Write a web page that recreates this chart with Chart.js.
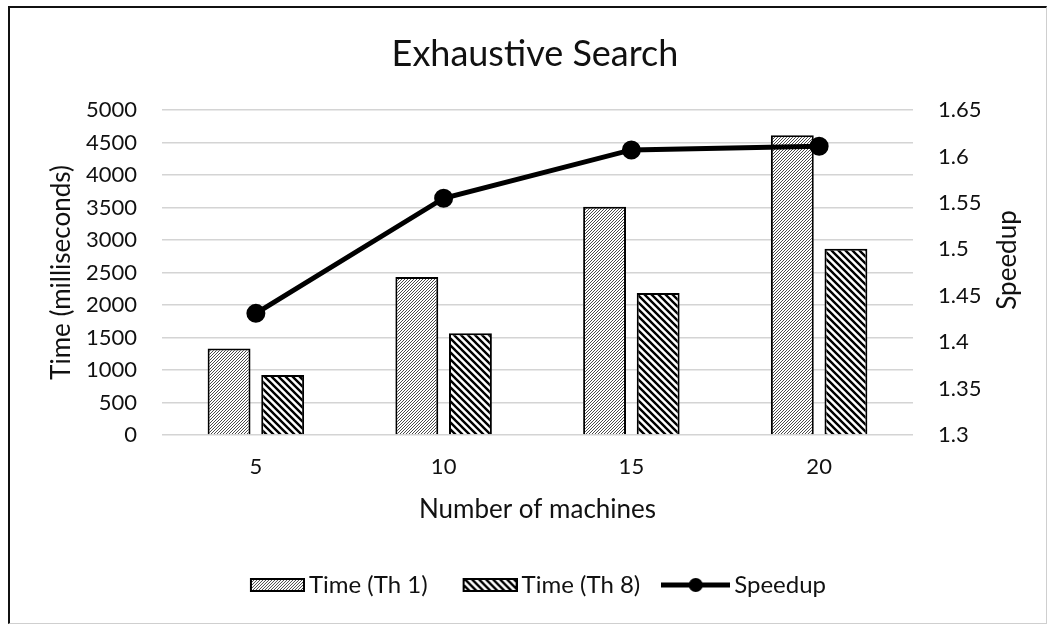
<!DOCTYPE html>
<html>
<head>
<meta charset="utf-8">
<script src="https://cdn.jsdelivr.net/npm/chart.js@4.4.1/dist/chart.umd.min.js"></script>
<style>
  html, body { margin: 0; padding: 0; background: #fff; }
  #frame {
    position: absolute; left: 8px; top: 6px; width: 1036px; height: 615px;
    border-left: 2px solid #111; border-top: 2px solid #111;
    border-right: 1px solid #cfcfcf; border-bottom: 1px solid #cfcfcf;
  }
  #chart { position: absolute; left: 0; top: 0; }
</style>
</head>
<body>
<div id="frame"></div>
<canvas id="chart" width="1047" height="624"></canvas>
<script>
    const machines = ['5', '10', '15', '20'];
    const timeTh1 = [1330, 2430, 3510, 4610];
    const timeTh8 = [925, 1565, 2185, 2865];
    const speedup = [1.431, 1.555, 1.607, 1.611];

    const timeRange = [0, 5000, 500];
    const speedRange = [1.3, 1.65, 0.05];

    const FONT = 'Lato, "Liberation Sans", sans-serif';

    // fine "/" hatch for the single-thread bars
    function fineHatch() {
        const s = 3;
        const c = document.createElement('canvas');
        c.width = s; c.height = s;
        const g = c.getContext('2d');
        g.fillStyle = '#fff';
        g.fillRect(0, 0, s, s);
        g.fillStyle = '#4a4a4a';
        for (let i = 0; i < s; i++) {
            g.fillRect(i, s - 1 - i, 1, 1);
        }
        return g.createPattern(c, 'repeat');
    }

    // wide "\" hatch for the 8-thread bars
    function wideHatch() {
        const s = 7;
        const c = document.createElement('canvas');
        c.width = s; c.height = s;
        const g = c.getContext('2d');
        g.fillStyle = '#fff';
        g.fillRect(0, 0, s, s);
        g.strokeStyle = '#000';
        g.lineWidth = 2.4;
        g.beginPath();
        g.moveTo(-1, -1); g.lineTo(s + 1, s + 1);
        g.moveTo(-1, s - 1); g.lineTo(1, s + 1);
        g.moveTo(s - 1, -1); g.lineTo(s + 1, 1);
        g.stroke();
        return g.createPattern(c, 'repeat');
    }

    const th1Fill = fineHatch();
    const th8Fill = wideHatch();

    // legend icons, all the same width so the labels line up
    function boxIcon(fill) {
        const c = document.createElement('canvas');
        c.width = 69; c.height = 16;
        const g = c.getContext('2d');
        g.fillStyle = fill;
        g.fillRect(14, 1, 55, 14);
        g.strokeStyle = '#000';
        g.lineWidth = 2;
        g.strokeRect(15, 2, 53, 12);
        return c;
    }

    function lineIcon() {
        const c = document.createElement('canvas');
        c.width = 69; c.height = 16;
        const g = c.getContext('2d');
        g.strokeStyle = '#000';
        g.lineWidth = 5;
        g.beginPath();
        g.moveTo(0, 8); g.lineTo(69, 8);
        g.stroke();
        g.fillStyle = '#000';
        g.beginPath();
        g.arc(34.5, 8, 7, 0, Math.PI * 2);
        g.fill();
        return c;
    }

    const icons = [lineIcon(), boxIcon(th1Fill), boxIcon(th8Fill)];

    // right-hand axis title, reading upwards like the left one
    const speedupTitle = {
        id: 'speedupTitle',
        afterDraw(chart) {
            const s = chart.scales.y1;
            const c = chart.ctx;
            c.save();
            c.translate(s.right - 15.6, 260);
            c.rotate(-Math.PI / 2);
            c.font = '26px ' + FONT;
            c.fillStyle = '#111';
            c.textAlign = 'center';
            c.textBaseline = 'middle';
            c.fillText('Speedup', 0, 0);
            c.restore();
        }
    };

    const ctx = document.getElementById('chart').getContext('2d');
    const chart = new Chart(ctx, {
        type: 'bar',
        data: {
            labels: machines,
            datasets: [
                {
                    // first so it is painted over the bars
                    type: 'line',
                    label: 'Speedup',
                    data: speedup,
                    yAxisID: 'y1',
                    borderColor: '#000',
                    backgroundColor: '#000',
                    borderWidth: 5,
                    pointRadius: 7,
                    pointBackgroundColor: '#000',
                    pointBorderColor: '#000',
                    tension: 0
                },
                {
                    label: 'Time (Th 1)',
                    data: timeTh1,
                    yAxisID: 'y',
                    backgroundColor: th1Fill,
                    borderColor: '#000',
                    borderWidth: 2,
                    categoryPercentage: 0.571,
                    barPercentage: 0.8
                },
                {
                    label: 'Time (Th 8)',
                    data: timeTh8,
                    yAxisID: 'y',
                    backgroundColor: th8Fill,
                    borderColor: '#000',
                    borderWidth: 2,
                    categoryPercentage: 0.571,
                    barPercentage: 0.8
                }
            ]
        },
        options: {
            responsive: false,
            animation: false,
            devicePixelRatio: 1,
            layout: { padding: { top: 10, left: 46.4, right: 23.4, bottom: 17 } },
            plugins: {
                tooltip: { enabled: false },
                title: {
                    display: true,
                    text: 'Exhaustive Search',
                    color: '#111',
                    font: { family: FONT, size: 36, weight: 'normal' },
                    padding: { top: 22.4, bottom: 34.4 }
                },
                legend: {
                    position: 'bottom',
                    labels: {
                        usePointStyle: true,
                        pointStyleWidth: 53,
                        padding: 29,
                        color: '#111',
                        font: { family: FONT, size: 24 },
                        generateLabels: function (chart) {
                            const items = Chart.defaults.plugins.legend.labels.generateLabels(chart);
                            items.forEach(it => { it.pointStyle = icons[it.datasetIndex]; });
                            return items;
                        },
                        sort: (a, b) => ((a.datasetIndex + 2) % 3) - ((b.datasetIndex + 2) % 3)
                    }
                }
            },
            scales: {
                x: {
                    grid: { display: false },
                    border: { display: false },
                    ticks: { color: '#111', padding: 10.8, font: { family: FONT, size: 22 } },
                    title: {
                        display: true,
                        text: 'Number of machines',
                        color: '#111',
                        font: { family: FONT, size: 26 },
                        padding: { top: 3.4, bottom: 18.4 }
                    }
                },
                y: {
                    position: 'left',
                    min: timeRange[0],
                    max: timeRange[1],
                    afterFit: s => { s.width = 115.6; },
                    grid: { color: '#d4d4d4', lineWidth: 1.5, drawTicks: false },
                    border: { display: false },
                    ticks: {
                        stepSize: timeRange[2],
                        autoSkip: false,
                        padding: 25,
                        color: '#111',
                        font: { family: FONT, size: 22 },
                        callback: v => String(v)
                    },
                    title: {
                        display: true,
                        text: 'Time (milliseconds)',
                        color: '#111',
                        font: { family: FONT, size: 26 },
                        padding: { top: 0, bottom: 0 }
                    }
                },
                y1: {
                    position: 'right',
                    min: speedRange[0],
                    max: speedRange[1],
                    afterFit: s => { s.width = 110.6; },
                    grid: { display: false, drawTicks: false },
                    border: { display: false },
                    ticks: {
                        stepSize: speedRange[2],
                        autoSkip: false,
                        padding: 25,
                        color: '#111',
                        font: { family: FONT, size: 22 },
                        callback: v => String(+v.toFixed(2))
                    }
                }
            }
        },
        plugins: [speedupTitle]
    });
</script>
</body>
</html>
